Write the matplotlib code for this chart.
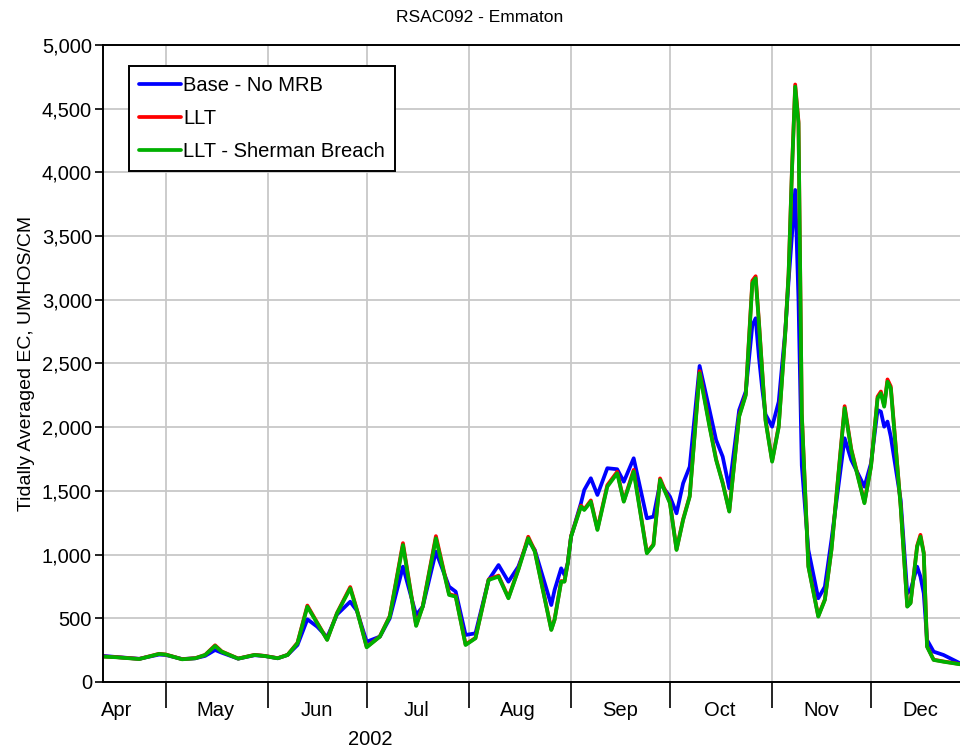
import numpy as np
import pandas as pd
import matplotlib
matplotlib.use('Agg')
import matplotlib.pyplot as plt
import matplotlib.dates as mdates
from matplotlib.ticker import FuncFormatter

plt.rcParams['font.family'] = ['Liberation Sans', 'DejaVu Sans']

# values (UMHOS/CM)
dates = ['2002-04-12', '2002-04-16', '2002-04-23', '2002-04-29', '2002-05-01',
         '2002-05-06', '2002-05-10', '2002-05-13', '2002-05-16', '2002-05-18',
         '2002-05-23', '2002-05-28', '2002-05-31', '2002-06-04', '2002-06-07',
         '2002-06-10', '2002-06-13', '2002-06-16', '2002-06-19', '2002-06-22',
         '2002-06-26', '2002-06-28', '2002-07-01', '2002-07-05', '2002-07-08',
         '2002-07-12', '2002-07-16', '2002-07-18', '2002-07-22', '2002-07-26',
         '2002-07-28', '2002-07-31', '2002-08-03', '2002-08-07', '2002-08-10',
         '2002-08-13', '2002-08-16', '2002-08-19', '2002-08-21', '2002-08-26',
         '2002-08-27', '2002-08-29', '2002-08-30', '2002-08-31', '2002-09-01',
         '2002-09-04', '2002-09-05', '2002-09-07', '2002-09-09', '2002-09-12',
         '2002-09-15', '2002-09-17', '2002-09-20', '2002-09-24', '2002-09-26',
         '2002-09-28', '2002-10-01', '2002-10-03', '2002-10-05', '2002-10-07',
         '2002-10-10', '2002-10-13', '2002-10-15', '2002-10-17', '2002-10-19',
         '2002-10-22', '2002-10-24', '2002-10-26', '2002-10-27', '2002-10-28',
         '2002-10-29', '2002-10-30', '2002-11-01', '2002-11-03', '2002-11-05',
         '2002-11-06', '2002-11-07', '2002-11-08', '2002-11-09', '2002-11-10',
         '2002-11-12', '2002-11-15', '2002-11-17', '2002-11-19', '2002-11-23',
         '2002-11-25', '2002-11-29', '2002-12-01', '2002-12-03', '2002-12-04',
         '2002-12-05', '2002-12-06', '2002-12-07', '2002-12-10', '2002-12-12',
         '2002-12-13', '2002-12-15', '2002-12-16', '2002-12-17', '2002-12-18',
         '2002-12-20', '2002-12-23', '2002-12-26', '2002-12-28']

base = [205, 196, 182, 215, 212, 180, 186, 205, 251, 230,
        183, 210, 204, 186, 212, 290, 492, 434, 351, 530,
        630, 560, 316, 356, 500, 905, 526, 591, 1023, 748,
        709, 369, 382, 801, 918, 787, 905, 1115, 1036, 604,
        722, 892, 840, 932, 1141, 1403, 1507, 1599, 1468, 1678,
        1670, 1572, 1756, 1285, 1298, 1560, 1455, 1324, 1560, 1690,
        2481, 2135, 1900, 1769, 1520, 2135, 2280, 2800, 2855, 2550,
        2300, 2100, 2004, 2200, 2760, 3150, 3500, 3862, 3000, 1700,
        1036, 657, 748, 1115, 1913, 1743, 1533, 1717, 2135, 2122,
        2004, 2044, 1926, 1429, 696, 722, 905, 827, 696, 330,
        238, 212, 173, 147]

llt = [200, 195, 181, 221, 216, 179, 187, 213, 288, 240,
       184, 213, 205, 187, 213, 308, 600, 465, 333, 542,
       745, 570, 275, 358, 518, 1090, 445, 595, 1145, 690,
       675, 295, 346, 805, 835, 662, 884, 1140, 1030, 412,
       492, 792, 790, 935, 1145, 1385, 1355, 1425, 1200, 1545,
       1650, 1420, 1665, 1015, 1080, 1598, 1410, 1040, 1278, 1460,
       2440, 2015, 1750, 1565, 1342, 2090, 2260, 3150, 3185, 2830,
       2440, 2060, 1735, 2010, 2750, 3210, 4010, 4690, 4400, 2110,
       910, 518, 648, 1040, 2165, 1830, 1410, 1695, 2240, 2280,
       2170, 2375, 2320, 1380, 595, 622, 1070, 1155, 1015, 280,
       175, 161, 149, 140]

breach = [199, 194, 180, 220, 215, 178, 186, 212, 283, 238,
          183, 212, 204, 186, 212, 304, 591, 461, 330, 539,
          735, 565, 272, 356, 513, 1075, 440, 591, 1128, 683,
          670, 290, 343, 801, 827, 657, 879, 1128, 1023, 408,
          487, 787, 787, 932, 1141, 1376, 1350, 1415, 1193, 1533,
          1638, 1415, 1651, 1010, 1075, 1586, 1403, 1036, 1272, 1455,
          2423, 2004, 1743, 1560, 1337, 2083, 2250, 3130, 3169, 2816,
          2430, 2050, 1729, 2000, 2740, 3200, 4000, 4673, 4386, 2100,
          905, 513, 644, 1036, 2149, 1821, 1403, 1690, 2227, 2266,
          2161, 2357, 2305, 1376, 591, 618, 1062, 1141, 1010, 277,
          173, 159, 147, 139]

t = pd.to_datetime(dates)

fig = plt.figure(figsize=(9.6, 7.5), dpi=100)
ax = fig.add_axes([0.1073, 0.0907, 0.8927, 0.8493])

kw = dict(lw=2.7, solid_joinstyle='round', solid_capstyle='round')
ax.plot(t, base, color='#0000ff', label='Base - No MRB', **kw)
ax.plot(t, llt, color='#ff0000', label='LLT', **kw)
ax.plot(t, breach, color='#00b000', label='LLT - Sherman Breach', **kw)

ax.set_xlim(pd.Timestamp('2002-04-12'), pd.Timestamp('2002-12-28'))
ax.set_ylim(0, 5000)
ax.set_yticks(np.arange(0, 5001, 500))
ax.yaxis.set_major_formatter(FuncFormatter(lambda v, p: f'{int(v):,}'))

ax.xaxis.set_major_locator(mdates.MonthLocator())
ax.xaxis.set_major_formatter(plt.NullFormatter())
ax.xaxis.set_minor_locator(mdates.MonthLocator(bymonthday=16))
ax.xaxis.set_minor_formatter(mdates.DateFormatter('%b'))
ax.tick_params(axis='x', which='major', length=19, width=1.2, color='black')
ax.tick_params(axis='x', which='minor', length=0, pad=14, labelsize=14.5)
ax.tick_params(axis='y', length=6, width=1.2, pad=2, labelsize=14.5)

ax.grid(True, which='major', color='#c8c8c8', lw=1.3)
ax.set_axisbelow(True)
for s in ['left', 'bottom', 'top']:
    ax.spines[s].set_linewidth(1.4)
ax.spines['right'].set_visible(False)

ax.set_ylabel('Tidally Averaged EC, UMHOS/CM', fontsize=14, labelpad=5)
fig.text(0.5, 0.977, 'RSAC092 - Emmaton', ha='center', va='center', fontsize=12.5)
fig.text(0.386, 0.014, '2002', ha='center', va='center', fontsize=14.5)

leg = ax.legend(loc='upper left', bbox_to_anchor=(0.030, 0.967), borderaxespad=0,
                fontsize=14.5, handlelength=2.1, handletextpad=0.1,
                labelspacing=0.7, borderpad=0.5, fancybox=False,
                framealpha=1, edgecolor='black')
leg.get_frame().set_linewidth(1.4)

fig.savefig('out.png', dpi=100)
